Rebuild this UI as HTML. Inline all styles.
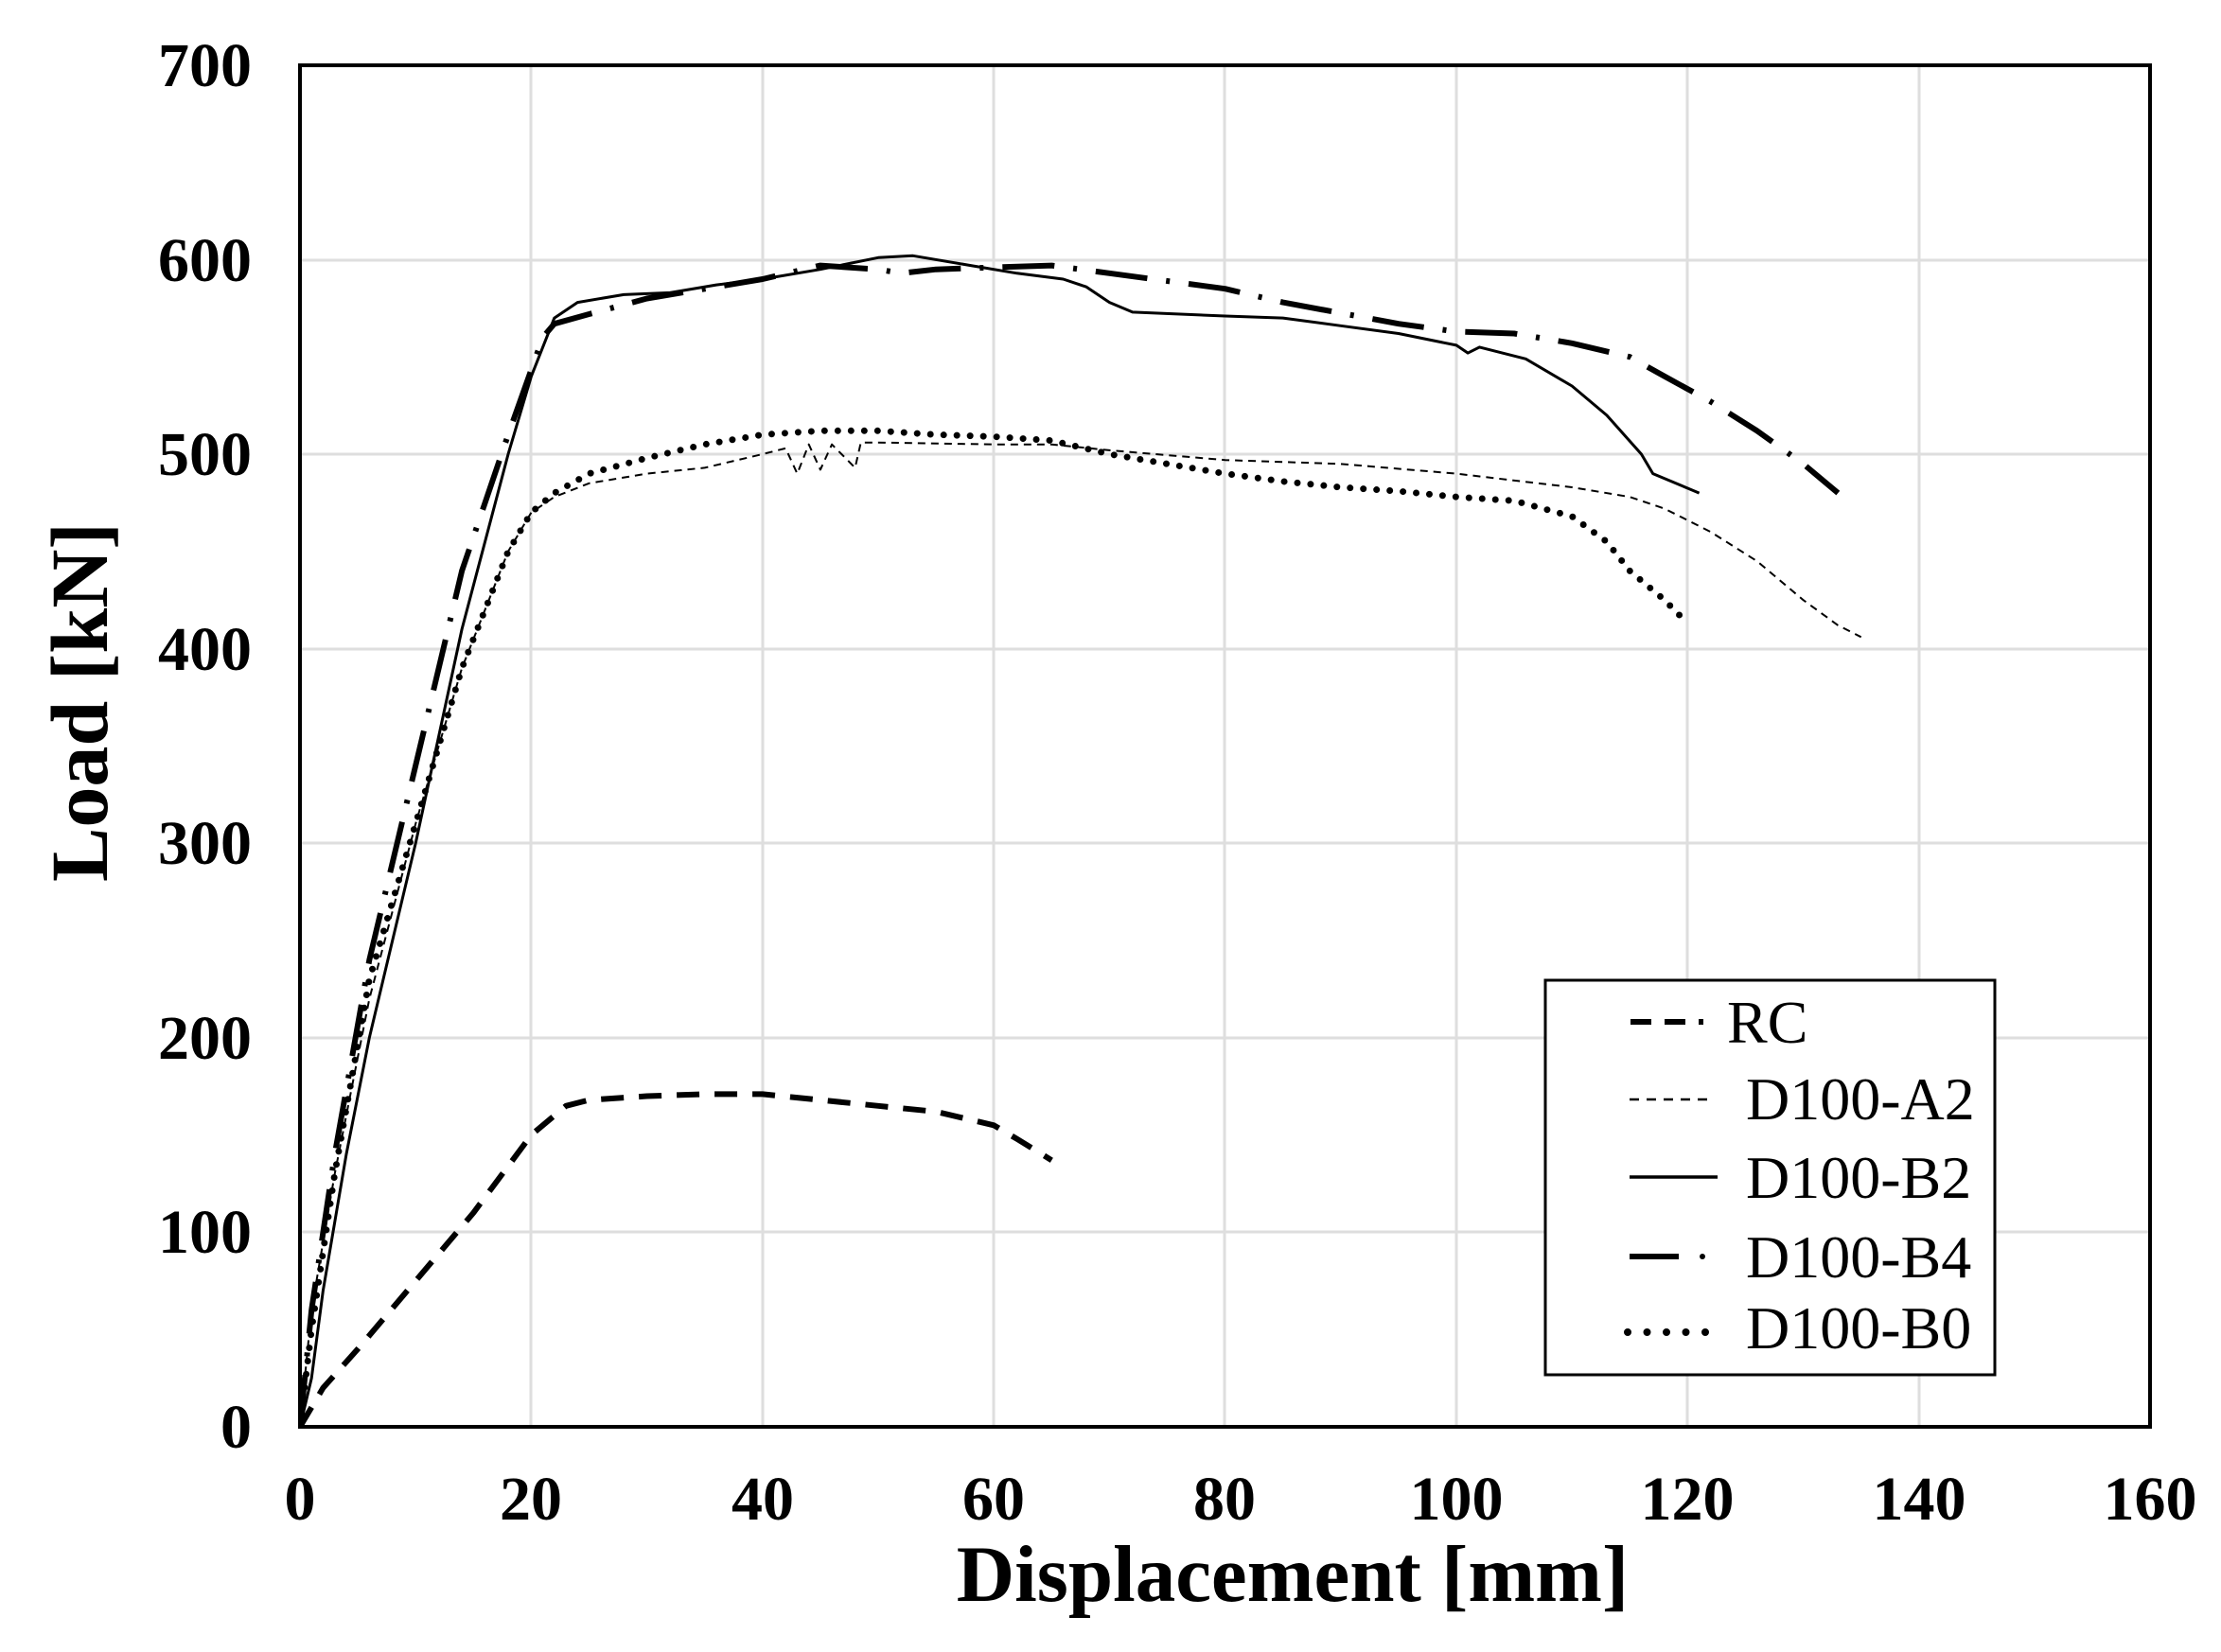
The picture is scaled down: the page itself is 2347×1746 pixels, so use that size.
<!DOCTYPE html>
<html><head><meta charset="utf-8"><style>
html,body{margin:0;padding:0;background:#fff;}
svg{display:block;}
text{font-family:"Liberation Serif",serif;fill:#000;}
.t{font-weight:bold;font-size:66px;}
</style></head><body>
<svg width="2347" height="1746" viewBox="0 0 2347 1746" xmlns="http://www.w3.org/2000/svg">
<defs>
<clipPath id="c"><rect x="317" y="69" width="1955" height="1439"/></clipPath>
</defs>
<g stroke="#dedede" stroke-width="3">
<line x1="561" y1="69" x2="561" y2="1508"/><line x1="806" y1="69" x2="806" y2="1508"/>
<line x1="1050" y1="69" x2="1050" y2="1508"/><line x1="1294" y1="69" x2="1294" y2="1508"/>
<line x1="1539" y1="69" x2="1539" y2="1508"/><line x1="1783" y1="69" x2="1783" y2="1508"/>
<line x1="2028" y1="69" x2="2028" y2="1508"/>
<line x1="317" y1="1302" x2="2272" y2="1302"/><line x1="317" y1="1097" x2="2272" y2="1097"/>
<line x1="317" y1="891" x2="2272" y2="891"/><line x1="317" y1="686" x2="2272" y2="686"/>
<line x1="317" y1="480" x2="2272" y2="480"/><line x1="317" y1="275" x2="2272" y2="275"/>
</g>
<g id="curves" clip-path="url(#c)" fill="none" stroke="#000" stroke-linejoin="round"></g>
<rect x="317" y="69" width="1955" height="1439" fill="none" stroke="#000" stroke-width="4"/>
<g text-anchor="end">
<text x="266" y="1530" class="t">0</text><text x="266" y="1324" class="t">100</text>
<text x="266" y="1119" class="t">200</text><text x="266" y="913" class="t">300</text>
<text x="266" y="708" class="t">400</text><text x="266" y="502" class="t">500</text>
<text x="266" y="297" class="t">600</text><text x="266" y="91" class="t">700</text>
</g>
<g text-anchor="middle">
<text x="317" y="1606" class="t">0</text><text x="561" y="1606" class="t">20</text>
<text x="806" y="1606" class="t">40</text><text x="1050" y="1606" class="t">60</text>
<text x="1294" y="1606" class="t">80</text><text x="1539" y="1606" class="t">100</text>
<text x="1783" y="1606" class="t">120</text><text x="2028" y="1606" class="t">140</text>
<text x="2272" y="1606" class="t">160</text>
<text x="1366" y="1692" style="font-weight:bold;font-size:85px">Displacement [mm]</text>
<text transform="translate(113,742) rotate(-90)" style="font-weight:bold;font-size:86px">Load [kN]</text>
</g>
<rect x="1633" y="1036" width="475" height="417" fill="#fff" stroke="#000" stroke-width="3"/>
<g stroke="#000" fill="none">
<line x1="1723" y1="1080" x2="1800" y2="1080" stroke-width="6" stroke-dasharray="22,14"/>
<line x1="1722" y1="1162" x2="1810" y2="1162" stroke-width="2.5" stroke-dasharray="10,8"/>
<line x1="1722" y1="1244" x2="1815" y2="1244" stroke-width="3.5"/>
<line x1="1722" y1="1328" x2="1774" y2="1328" stroke-width="6"/>
<circle cx="1799" cy="1328" r="3" fill="#000" stroke="none"/>
<line x1="1720" y1="1408" x2="1812" y2="1408" stroke-width="8" stroke-linecap="round" stroke-dasharray="0,20.5"/>
</g>
<g style="font-size:64px">
<text x="1825" y="1102">RC</text><text x="1845" y="1183">D100-A2</text>
<text x="1845" y="1266">D100-B2</text><text x="1845" y="1350">D100-B4</text>
<text x="1845" y="1425">D100-B0</text>
</g>
</svg>
<script>
function P(a){return a.map(function(p){return (317+12.22*p[0]).toFixed(1)+","+(1508-2.056*p[1]).toFixed(1)}).join(" ");}
var S=[
{d:[[0,0],[2,20],[5,40],[10,75],[15,110],[20,150],[23,165],[25,168],[30,170],[35,171],[40,171],[45,168],[50,165],[55,162],[60,155],[62,148],[65,137]],s:"stroke-width:6;stroke-dasharray:24,16"},
{d:[[0,0],[1,60],[3,130],[6,220],[10,310],[14,390],[18,450],[20,470],[22,478],[25,485],[30,490],[35,493],[40,500],[42,503],[43,490],[44,505],[45,492],[46,505],[48,493],[48.5,506],[50,506],[60,505],[65,505],[70,502],[80,497],[90,495],[100,490],[110,483],[115,478],[118,472],[122,460],[126,445],[130,425],[133,412],[135,406]],s:"stroke-width:2;stroke-dasharray:8,6"},
{d:[[0,0],[1,25],[2,70],[4,140],[6,200],[10,300],[14,410],[18,500],[20,540],[22,570],[24,578],[28,582],[32,583],[36,587],[40,590],[45,595],[50,601],[53,602],[58,597],[62,593],[66,590],[68,586],[70,578],[72,573],[80,571],[85,570],[90,566],[95,562],[100,556],[101,552],[102,555],[106,549],[110,535],[113,520],[116,500],[117,490],[121,480]],s:"stroke-width:3"},
{d:[[0,0],[1,60],[3,140],[6,240],[10,340],[14,440],[18,510],[21,560],[22,567],[25,572],[30,580],[40,590],[45,597],[50,595],[52,593],[55,595],[60,596],[65,597],[70,593],[80,585],[85,578],[95,567],[100,563],[105,562],[110,557],[115,550],[118,540],[122,527],[126,512],[130,495],[133,480]],s:"stroke-width:6;stroke-dasharray:55,20,4,20"},
{d:[[0,0],[1,50],[3,130],[6,230],[10,310],[14,390],[18,450],[20,470],[22,480],[25,490],[30,498],[35,505],[40,510],[45,512],[50,512],[55,510],[60,509],[65,507],[70,500],[75,495],[80,490],[85,486],[90,483],[95,481],[100,478],[105,476],[110,468],[113,455],[115,440],[118,425],[120,413]],s:"stroke-width:7;stroke-linecap:round;stroke-dasharray:0,14"}
];
var g=document.getElementById("curves");
S.forEach(function(o){var e=document.createElementNS("http://www.w3.org/2000/svg","polyline");e.setAttribute("points",P(o.d));e.setAttribute("style",o.s);g.appendChild(e);});
</script>
</body></html>
